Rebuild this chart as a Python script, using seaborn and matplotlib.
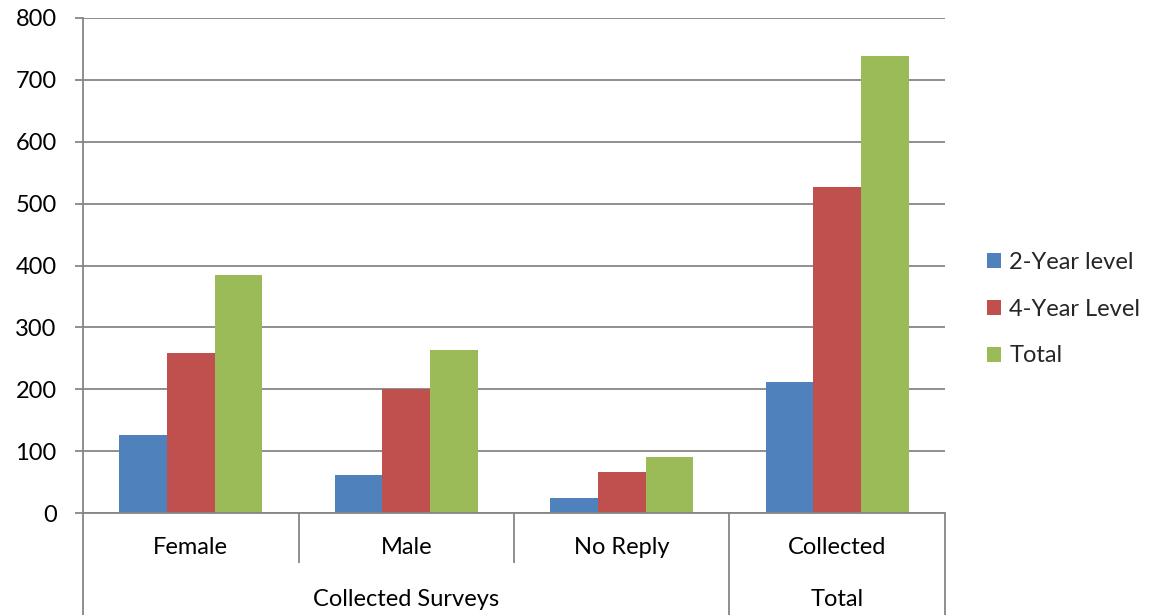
import matplotlib
matplotlib.use("Agg")
import matplotlib.pyplot as plt
import seaborn as sns
import pandas as pd
from matplotlib.patches import Patch

# Survey counts per category
categories = ["Female", "Male", "No Reply", "Collected"]
groups = ["Collected Surveys", "Collected Surveys", "Collected Surveys", "Total"]
series = ["2-Year level", "4-Year Level", "Total"]
two_year = [126, 62, 24, 212]
four_year = [259, 201, 67, 527]
total = [385, 263, 90, 738]
y_ticks = [0, 100, 200, 300, 400, 500, 600, 700, 800]

colors = ["#4F81BD", "#C0504D", "#9BBB59"]
grid_col = "#868686"
FS = 17

rows = []
for name, vals in zip(series, [two_year, four_year, total]):
    for cat, v in zip(categories, vals):
        rows.append({"Category": cat, "Series": name, "Count": v})
df = pd.DataFrame(rows)

sns.set_theme(style="white")
plt.rcParams["font.family"] = ["Lato", "DejaVu Sans"]

fig = plt.figure(figsize=(11.59, 6.15), dpi=100)
ax = fig.add_axes([83 / 1159, 1 - 513 / 615, (945 - 83) / 1159, (513 - 18) / 615])

sns.barplot(data=df, x="Category", y="Count", hue="Series", order=categories,
            hue_order=series, palette=colors, width=0.665, saturation=1,
            edgecolor="none", linewidth=0, ax=ax, legend=False)

ax.set_xlim(-0.5, len(categories) - 0.5)
ax.set_ylim(0, 800)
ax.set_yticks(y_ticks)
ax.set_yticklabels([str(t) for t in y_ticks], fontsize=FS, color="black")
ax.yaxis.grid(True, color=grid_col, linewidth=1.3)
ax.set_axisbelow(True)
ax.tick_params(axis="y", which="both", left=True, length=6, width=1.3,
               color=grid_col, pad=13)
ax.tick_params(axis="x", bottom=False, labelbottom=False)
ax.set_xlabel("")
ax.set_ylabel("")
for side in ["top", "right"]:
    ax.spines[side].set_visible(False)
for side in ["left", "bottom"]:
    ax.spines[side].set_color(grid_col)
    ax.spines[side].set_linewidth(1.3)

# Two-level category axis below the plot
trans = ax.get_xaxis_transform()
short_bottom = -0.101
long_bottom = -0.215
n = len(categories)
for i in range(n + 1):
    x = i - 0.5
    if i == 0 or i == n or groups[i - 1] != groups[i]:
        yb = long_bottom
    else:
        yb = short_bottom
    ax.plot([x, x], [0, yb], transform=trans, color=grid_col, linewidth=1.3,
            clip_on=False, solid_capstyle="butt")

for i, cat in enumerate(categories):
    ax.text(i, -0.0687, cat, transform=trans, ha="center", va="center",
            fontsize=FS, color="black")

# group labels centred over their span
spans = {}
for i, g in enumerate(groups):
    spans.setdefault(g, []).append(i)
for g, idx in spans.items():
    ax.text((idx[0] + idx[-1]) / 2, -0.174, g, transform=trans, ha="center",
            va="center", fontsize=FS, color="black")

handles = [Patch(facecolor=c, edgecolor="none") for c in colors]
fig.legend(handles, series, loc="center left", bbox_to_anchor=(987 / 1159, 1 - 309 / 615),
           frameon=False, fontsize=FS, handlelength=0.6, handleheight=0.6,
           handletextpad=0.35, labelspacing=1.1, borderpad=0, borderaxespad=0)

fig.savefig("out.png", dpi=100)
